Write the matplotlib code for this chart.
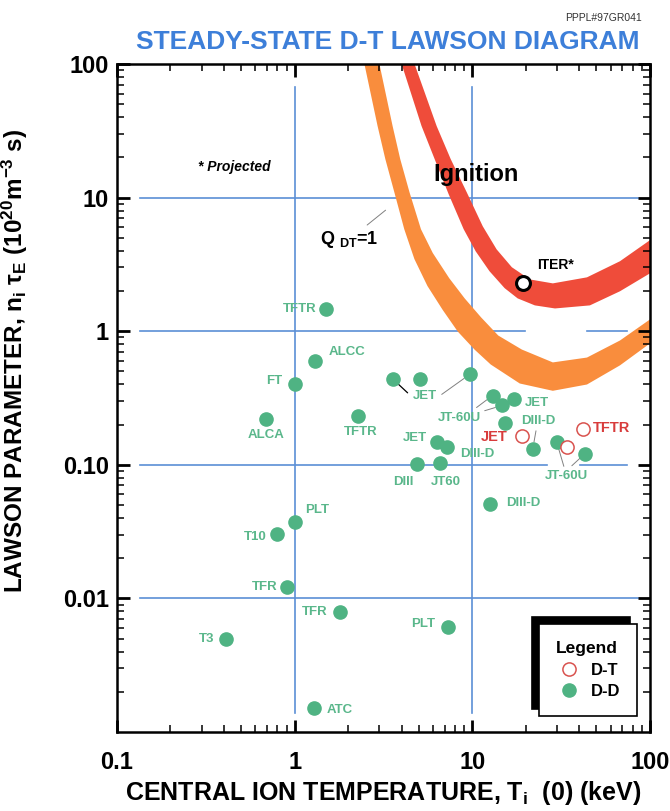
import matplotlib
matplotlib.use('Agg')
import matplotlib.pyplot as plt
from matplotlib.patches import Shadow
from matplotlib.ticker import LogLocator, NullFormatter

plt.rcParams['font.family'] = ['Liberation Sans', 'DejaVu Sans']
plt.rcParams['mathtext.fontset'] = 'custom'
plt.rcParams['mathtext.rm'] = 'Liberation Sans:bold'
plt.rcParams['mathtext.bf'] = 'Liberation Sans:bold'
plt.rcParams['mathtext.it'] = 'Liberation Sans:italic:bold'
plt.rcParams['mathtext.default'] = 'bf'

# D-D experiments (filled dots)
dd_names = ['TFTR', 'ALCC', 'FT', 'ALCA', 'TFTR', '', 'JET', '', '', 'JT-60U',
            'JET', '', 'DIII-D', 'JT-60U', '', 'JET', 'DIII-D', 'DIII', 'JT60',
            'DIII-D', 'PLT', 'T10', 'TFR', 'TFR', 'PLT', 'T3', 'ATC']
dd_temp = [1.51, 1.31, 1.0, 0.69, 2.26, 3.56, 5.05, 9.67, 13.0, 14.7,
           17.1, 15.2, 21.9, 29.9, 43.0, 6.3, 7.18, 4.86, 6.55,
           12.5, 1.0, 0.80, 0.91, 1.79, 7.26, 0.41, 1.29]
dd_ntau = [1.46, 0.594, 0.40, 0.222, 0.23, 0.44, 0.44, 0.475, 0.33, 0.278,
           0.313, 0.207, 0.132, 0.147, 0.121, 0.149, 0.137, 0.102, 0.104,
           0.0512, 0.0375, 0.0305, 0.0122, 0.0079, 0.0061, 0.005, 0.0015]

# D-T experiments (open circles)
dt_names = ['JET', '', 'TFTR']
dt_temp = [19.0, 34.0, 41.9]
dt_ntau = [0.163, 0.137, 0.184]

iter_temp = [19.2]
iter_ntau = [2.28]

# ignition band edges
ign_outer_T = [4.0, 5.18, 6.14, 7.36, 8.94, 10.45, 12.5, 15.2, 18.0, 22.5, 29.2, 45.9, 67.8, 100]
ign_outer_n = [100, 34.3, 19.4, 10.6, 5.80, 3.96, 2.81, 2.10, 1.76, 1.56, 1.48, 1.56, 1.99, 2.71]
ign_inner_T = [4.73, 6.30, 7.56, 9.30, 11.45, 13.7, 16.7, 21.1, 28.4, 44.2, 67.8, 100]
ign_inner_n = [100, 34.3, 19.4, 10.97, 6.10, 4.10, 3.01, 2.44, 2.28, 2.53, 3.34, 4.80]

# Q_DT = 1 band edges
qdt_outer_T = [2.47, 2.93, 3.24, 3.64, 4.14, 4.72, 5.59, 6.82, 8.28, 10.3, 12.7, 18.5, 28.4, 44.2, 67.8, 100]
qdt_outer_n = [100, 34.3, 19.4, 10.97, 5.80, 3.47, 2.18, 1.44, 0.994, 0.728, 0.563, 0.406, 0.358, 0.399, 0.555, 0.810]
qdt_inner_T = [3.00, 3.56, 3.93, 4.43, 5.14, 5.99, 7.42, 9.06, 11.2, 14.0, 19.0, 28.4, 44.2, 67.8, 100]
qdt_inner_n = [100, 34.3, 19.4, 10.97, 5.80, 3.85, 2.49, 1.76, 1.27, 0.928, 0.729, 0.584, 0.635, 0.852, 1.225]

x_ticks = [0.1, 1, 10, 100]
x_ticklabels = ['0.1', '1', '10', '100']
y_ticks = [0.01, 0.1, 1, 10, 100]
y_ticklabels = ['0.01', '0.10', '1', '10', '100']

# label placement (offsets in pixels from the dot): dx, dy, ha, leader
PX = 0.72
dd_layout = [(-10, 0, 'right', None), (13, 9, 'left', None), (-12, 3, 'right', None),
             (0, -16, 'center', None), (3, -16, 'center', None), (15, -14, None, 'k'),
             (5, -17, 'center', None), (-28, -20, None, 'grey'), (-16, -12, None, 'grey'),
             (-43, -13, 'center', 'grey'), (11, -4, 'left', None), None,
             (5, 28, 'center', 'grey'), (10, -34, 'center', 'grey'), (-13, -12, None, 'grey'),
             (-10, 4, 'right', None), (13, -7, 'left', None), (-13, -18, 'center', None),
             (6, -19, 'center', None), (17, 1, 'left', None), (10, 12, 'left', None),
             (-11, -3, 'right', None), (-10, 0, 'right', None), (-12, 0, 'right', None),
             (-12, 3, 'right', None), (-11, 0, 'right', None), (12, -2, 'left', None)]
dt_layout = [(-14, -1, 'right'), None, (10, 1, 'left')]

green = '#4fb383'
green_txt = '#5ab78b'
red_txt = '#d83c3c'
grid_col = '#5b8fd6'

fig = plt.figure(figsize=(6.7, 8.11), dpi=100)
ax = fig.add_axes([0.1746, 0.0974, 0.7955, 0.8237])
ax.set_xscale('log')
ax.set_yscale('log')
ax.set_xlim(0.1, 100)
ax.set_ylim(0.001, 100)

# grid lines, drawn short of the frame like the original
for y, segs in [(10, [(0.043, 0.977)]), (1, [(0.043, 0.765), (0.882, 0.957)]),
                (0.1, [(0.043, 0.807), (0.869, 0.957)]), (0.01, [(0.043, 0.977)])]:
    for a, b in segs:
        ax.axhline(y, a, b, color=grid_col, lw=1.2, zorder=0.5)
for x in [1, 10]:
    ax.axvline(x, 0.028, 0.966, color=grid_col, lw=1.2, zorder=0.5)

# bands
ax.fill(qdt_outer_T + qdt_inner_T[::-1], qdt_outer_n + qdt_inner_n[::-1],
        color='#f98d3d', lw=0, zorder=1)
ax.fill(ign_outer_T + ign_inner_T[::-1], ign_outer_n + ign_inner_n[::-1],
        color='#ef4c3a', lw=0, zorder=1)

h_dd, = ax.plot(dd_temp, dd_ntau, 'o', ms=9.5, color=green, mec=green, ls='none', zorder=4)
h_dt, = ax.plot(dt_temp, dt_ntau, 'o', ms=9.5, mfc='white', mec='#d9534f', mew=1.1,
                ls='none', zorder=4)
ax.plot(iter_temp, iter_ntau, 'o', ms=10, mfc='white', mec='black', mew=2.2, ls='none', zorder=4)

for name, t, n, lay in zip(dd_names, dd_temp, dd_ntau, dd_layout):
    if lay is None:
        continue
    dx, dy, ha, lead = lay
    arrow = None
    if lead:
        arrow = dict(arrowstyle='-', color=lead, lw=0.9 if lead == 'k' else 0.7,
                     shrinkA=0 if not name else 1, shrinkB=5)
    ax.annotate(name, (t, n), xytext=(dx * PX, dy * PX), textcoords='offset points',
                ha=ha or 'center', va='center', fontsize=9.5, fontweight='bold',
                color=green_txt, arrowprops=arrow, zorder=3)

for name, t, n, lay in zip(dt_names, dt_temp, dt_ntau, dt_layout):
    if lay is None:
        continue
    dx, dy, ha = lay
    ax.annotate(name, (t, n), xytext=(dx * PX, dy * PX), textcoords='offset points',
                ha=ha, va='center', fontsize=10.5, fontweight='bold', color=red_txt)

ax.annotate('ITER*', (iter_temp[0], iter_ntau[0]), xytext=(14 * PX, 18 * PX),
            textcoords='offset points', ha='left', va='center', fontsize=10,
            fontweight='bold')
ax.annotate(r'Q $_{DT}$=1', (3.25, 8.05), xytext=(-36 * PX, -29 * PX),
            textcoords='offset points', ha='center', va='center', fontsize=13,
            fontweight='bold',
            arrowprops=dict(arrowstyle='-', color='grey', lw=0.7, shrinkA=1, shrinkB=0))
ax.text(0.674, 0.834, 'Ignition', transform=ax.transAxes, ha='center', va='center',
        fontsize=17, fontweight='bold', zorder=5)
ax.text(0.221, 0.846, '* Projected', transform=ax.transAxes, ha='center', va='center',
        fontsize=10, fontweight='bold', style='italic')

# axes styling
for s in ax.spines.values():
    s.set_linewidth(1.8)
ax.set_xticks(x_ticks, x_ticklabels)
ax.set_yticks(y_ticks, y_ticklabels)
ax.xaxis.set_minor_locator(LogLocator(base=10, subs=range(2, 10)))
ax.yaxis.set_minor_locator(LogLocator(base=10, subs=range(2, 10)))
ax.xaxis.set_minor_formatter(NullFormatter())
ax.yaxis.set_minor_formatter(NullFormatter())
ax.tick_params(which='both', direction='in', top=True, right=True)
ax.tick_params(which='major', length=9, width=2, labelsize=17)
ax.tick_params(axis='x', which='major', pad=14)
ax.tick_params(axis='y', which='major', pad=6)
ax.tick_params(which='minor', length=5, width=1.1)
for lab in ax.get_xticklabels() + ax.get_yticklabels():
    lab.set_fontweight('bold')

ax.set_xlabel('CENTRAL ION TEMPERATURE, T$_{i}$  (0) (keV)', fontsize=18,
              fontweight='bold', labelpad=3)
ax.set_ylabel(r'LAWSON PARAMETER, n$_{i}$ $\tau_{E}$ (10$^{20}$m$^{-3}$ s)', fontsize=17.5,
              fontweight='bold')
ax.yaxis.set_label_coords(-0.163, 0.555)

fig.text(0.578, 0.948, 'STEADY-STATE D-T LAWSON DIAGRAM', ha='center', va='center',
         fontsize=19, fontweight='bold', color='#3d7fd9')
fig.text(0.958, 0.978, 'PPPL#97GR041', ha='right', va='center', fontsize=7.5, color='#333333')

leg = ax.legend([h_dt, h_dd], ['D-T', 'D-D'], title='Legend', loc='lower right',
                bbox_to_anchor=(0.976, 0.024), borderaxespad=0, fancybox=False,
                framealpha=1, edgecolor='black', prop={'weight': 'bold', 'size': 12},
                title_fontproperties={'weight': 'bold', 'size': 12.5}, alignment='left',
                handlelength=1.6, handletextpad=0.5, labelspacing=0.4, borderpad=1.0)
leg.get_frame().set_linewidth(1.2)
leg.set_zorder(6)
sh = Shadow(leg.legendPatch, -5, 5, facecolor='black', edgecolor='black', alpha=1)
sh.set_zorder(5.9)
ax.add_artist(sh)

fig.canvas.draw()
fig.savefig('out.png', dpi=100, facecolor='white')
